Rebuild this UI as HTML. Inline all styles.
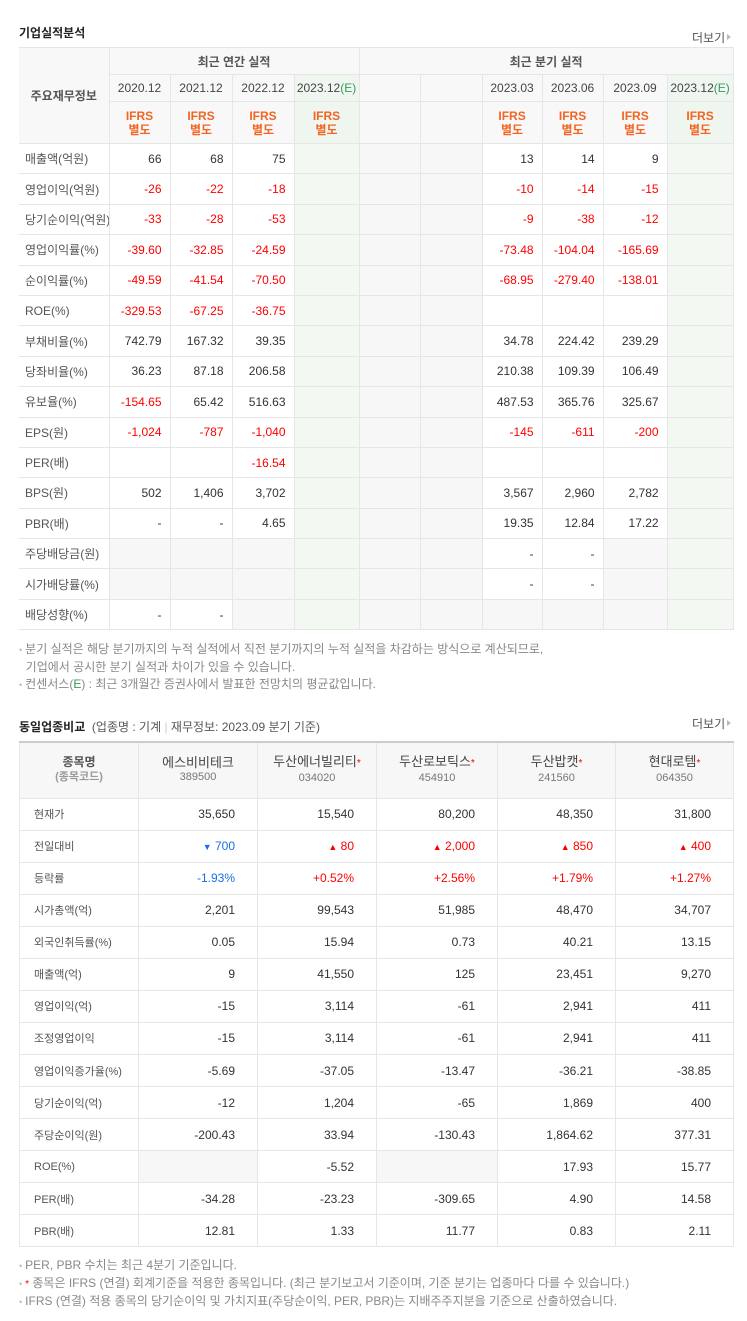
<!DOCTYPE html>
<html><head><meta charset="utf-8">
<style>
*{box-sizing:border-box;margin:0;padding:0}
body{width:747px;height:1321px;background:#fff;font-family:"Liberation Sans","Noto Sans CJK KR",sans-serif;font-size:12px;color:#333;position:relative;overflow:hidden}
h2{position:absolute;font-size:12px;font-weight:bold;color:#222}
.more{position:absolute;font-size:12px;color:#555}
.more:after{content:"";display:inline-block;border-left:4px solid #bbb;border-top:3px solid transparent;border-bottom:3px solid transparent;margin-left:2px;vertical-align:2px}
table{border-collapse:collapse;table-layout:fixed;position:absolute}
td,th{border:1px solid #e6e6e6;font-weight:normal;overflow:hidden;white-space:nowrap}
#t1{left:19px;top:47px;width:714px;border-top:1px solid #aaa;border-bottom:1px solid #ccc}
#t1 th{background:#f8f8f8;color:#444;height:27px;text-align:center;font-size:12px}
#t1 th.g{background:#eff6ef}
#t1 th.lab{font-weight:bold;color:#555}
#t1 th.tt{font-weight:bold;color:#555}
#t1 th.ifrs{height:42px;color:#f26522;font-weight:bold;line-height:14px}
#t1 td{height:30.4px;text-align:right;padding-right:8px}
#t1 td.l{text-align:left;padding-left:6px;color:#555;background:#fff}
#t1 tr.sep td{border-top:1px solid #ccc}
.t1first{border-left:none!important}
.red{color:#f00}
.blue{color:#1a6ee6}
.gr{background:#f7f7f7}
.gn{background:#f3f8f3}
.E{color:#3a9a5a}
.note{position:absolute;left:19px;color:#888;font-size:12px;line-height:17px}
.note span.b{color:#bbb;font-size:9px;margin-right:3px}
#t2{left:19px;top:741px;width:714px;border-top:2px solid #ccc;border-bottom:1px solid #ccc}
#t2 th{background:#f7f7f7;height:56px;text-align:center;color:#444;line-height:15px;font-size:13px}
#t2 th small{font-size:11px;color:#777;display:block}
#t2 th.lab{font-weight:bold;color:#555;font-size:12px}
#t2 th.lab small{color:#999}
#t2 td{height:32.07px;text-align:right;padding-right:22px}
#t2 td.l{text-align:left;padding-left:14px;color:#555;font-size:11px}
.st{color:#e00;font-size:10px}
</style></head><body>
<h2 style="left:19px;top:24px">기업실적분석</h2>
<div class="more" style="left:692px;top:29px">더보기</div>

<table id="t1">
<colgroup><col style="width:90px"><col style="width:61px"><col style="width:62px"><col style="width:62px"><col style="width:65px"><col style="width:61px"><col style="width:62px"><col style="width:60px"><col style="width:61px"><col style="width:64px"><col style="width:66px"></colgroup>
<thead>
<tr><th rowspan="3" class="lab t1first">주요재무정보</th><th colspan="4" class="tt">최근 연간 실적</th><th colspan="6" class="tt">최근 분기 실적</th></tr>
<tr id="years"></tr>
<tr id="ifrs"></tr>
</thead>
<tbody id="b1"></tbody>
</table>

<div class="note" style="top:641px"><span class="b">•</span>분기 실적은 해당 분기까지의 누적 실적에서 직전 분기까지의 누적 실적을 차감하는 방식으로 계산되므로,<br>&nbsp;&nbsp;기업에서 공시한 분기 실적과 차이가 있을 수 있습니다.<br><span class="b">•</span>컨센서스(<span class="E">E</span>) : 최근 3개월간 증권사에서 발표한 전망치의 평균값입니다.</div>

<h2 style="left:19px;top:718px">동일업종비교 <span style="font-weight:normal;color:#555">&nbsp;(업종명 : 기계 <span style="color:#ccc">|</span> 재무정보: 2023.09 분기 기준)</span></h2>
<div class="more" style="left:692px;top:715px">더보기</div>

<table id="t2">
<colgroup><col style="width:119px"><col style="width:119px"><col style="width:119px"><col style="width:121px"><col style="width:118px"><col style="width:118px"></colgroup>
<thead><tr id="phead"></tr></thead>
<tbody id="b2"></tbody>
</table>

<div class="note" style="top:1257px"><span class="b">•</span>PER, PBR 수치는 최근 4분기 기준입니다.<br><span class="b">•</span><span class="st">*</span> 종목은 IFRS (연결) 회계기준을 적용한 종목입니다. (최근 분기보고서 기준이며, 기준 분기는 업종마다 다를 수 있습니다.)<br><span class="b">•</span>IFRS (연결) 적용 종목의 당기순이익 및 가치지표(주당순이익, PER, PBR)는 지배주주지분을 기준으로 산출하였습니다.</div>

<script>
const periods=["2020.12","2021.12","2022.12","2023.12","","","2023.03","2023.06","2023.09","2023.12"];
const estCols=[3,9];
const rowLabels=["매출액(억원)","영업이익(억원)","당기순이익(억원)","영업이익률(%)","순이익률(%)","ROE(%)","부채비율(%)","당좌비율(%)","유보율(%)","EPS(원)","PER(배)","BPS(원)","PBR(배)","주당배당금(원)","시가배당률(%)","배당성향(%)"];
const rowValues=[
["66","68","75","","","","13","14","9",""],
["-26","-22","-18","","","","-10","-14","-15",""],
["-33","-28","-53","","","","-9","-38","-12",""],
["-39.60","-32.85","-24.59","","","","-73.48","-104.04","-165.69",""],
["-49.59","-41.54","-70.50","","","","-68.95","-279.40","-138.01",""],
["-329.53","-67.25","-36.75","","","","","","",""],
["742.79","167.32","39.35","","","","34.78","224.42","239.29",""],
["36.23","87.18","206.58","","","","210.38","109.39","106.49",""],
["-154.65","65.42","516.63","","","","487.53","365.76","325.67",""],
["-1,024","-787","-1,040","","","","-145","-611","-200",""],
["","","-16.54","","","","","","",""],
["502","1,406","3,702","","","","3,567","2,960","2,782",""],
["-","-","4.65","","","","19.35","12.84","17.22",""],
["","","","","","","-","-","",""],
["","","","","","","-","-","",""],
["-","-","","","","","","","",""]];
const sepRows=[3,6,9,13];
const yr=document.getElementById('years'),ifr=document.getElementById('ifrs');
periods.forEach((p,i)=>{
  const th=document.createElement('th');
  
  
  if(estCols.includes(i)){th.className='g';th.innerHTML=p+'<span class="E">(E)</span>';}else th.textContent=p;
  yr.appendChild(th);
  const t2=document.createElement('th');
  
  
  t2.className='ifrs'+(estCols.includes(i)?' g':'');
  if(p) t2.innerHTML='IFRS<br>별도';
  ifr.appendChild(t2);
});
const b1=document.getElementById('b1');
rowLabels.forEach((lab,r)=>{
  const tr=document.createElement('tr');
  
  
  if(sepRows.includes(r)) tr.className='sep';
  const l=document.createElement('td');l.className='l t1first';l.textContent=lab;
  
  
  tr.appendChild(l);
  rowValues[r].forEach((v,i)=>{
    const td=document.createElement('td');
    
    
    let c='';
    if(estCols.includes(i)) c='gn';
    else if(i==4||i==5) c='gr';
    else if(r>=13 && v==='') c='gr';
    if(v.length>1&&v[0]==='-') c+=' red';
    td.className=c;td.textContent=v;tr.appendChild(td);
  });
  b1.appendChild(tr);
});

const peerNames=["에스비비테크","두산에너빌리티","두산로보틱스","두산밥캣","현대로템"];
const peerCodes=["389500","034020","454910","241560","064350"];
const peerStar=[false,true,true,true,true];
const metricLabels=["현재가","전일대비","등락률","시가총액(억)","외국인취득률(%)","매출액(억)","영업이익(억)","조정영업이익","영업이익증가율(%)","당기순이익(억)","주당순이익(원)","ROE(%)","PER(배)","PBR(배)"];
const metricValues=[
["35,650","15,540","80,200","48,350","31,800"],
["▼ 700","▲ 80","▲ 2,000","▲ 850","▲ 400"],
["-1.93%","+0.52%","+2.56%","+1.79%","+1.27%"],
["2,201","99,543","51,985","48,470","34,707"],
["0.05","15.94","0.73","40.21","13.15"],
["9","41,550","125","23,451","9,270"],
["-15","3,114","-61","2,941","411"],
["-15","3,114","-61","2,941","411"],
["-5.69","-37.05","-13.47","-36.21","-38.85"],
["-12","1,204","-65","1,869","400"],
["-200.43","33.94","-130.43","1,864.62","377.31"],
["","-5.52","","17.93","15.77"],
["-34.28","-23.23","-309.65","4.90","14.58"],
["12.81","1.33","11.77","0.83","2.11"]];
const ph=document.getElementById('phead');
const h0=document.createElement('th');h0.className='lab';h0.innerHTML='종목명<small>(종목코드)</small>';


ph.appendChild(h0);
peerNames.forEach((n,i)=>{
  const th=document.createElement('th');
  
  
  th.innerHTML=n+(peerStar[i]?'<span class="st">*</span>':'')+'<small>'+peerCodes[i]+'</small>';
  ph.appendChild(th);
});
const b2=document.getElementById('b2');
metricLabels.forEach((lab,r)=>{
  const tr=document.createElement('tr');
  
  
  const l=document.createElement('td');l.className='l';l.textContent=lab;
  
  
  tr.appendChild(l);
  metricValues[r].forEach(v=>{
    const td=document.createElement('td');
    
    
    if(v==='') td.className='gr';
    if(r===1||r===2){ if(v.includes('▼')||v[0]==='-') td.className='blue'; else td.className='red'; }
    if(r===1){td.innerHTML='<span style="font-size:9px">'+v.slice(0,1)+'</span>'+v.slice(1);} else td.textContent=v;
    tr.appendChild(td);
  });
  b2.appendChild(tr);
});
</script>
</body></html>
